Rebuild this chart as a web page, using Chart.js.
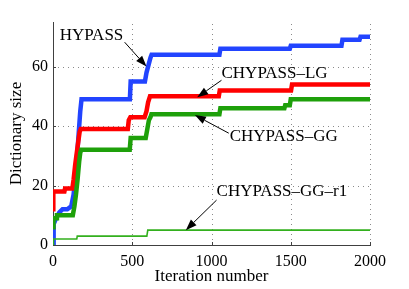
<!DOCTYPE html>
<html>
<head>
<meta charset="utf-8">
<script src="https://cdn.jsdelivr.net/npm/chart.js@4.4.0/dist/chart.umd.min.js"></script>
<style>
html, body { margin: 0; padding: 0; background: #fff; }
</style>
</head>
<body>
<canvas id="dictChart" width="409" height="289"></canvas>
<script>
// axis ticks
const xTicks = [0, 500, 1000, 1500, 2000];
const yTicks = [0, 20, 40, 60];

// HYPASS
const hypassIter = [0, 4, 20, 40, 60, 90, 115, 130, 145, 160, 172, 180, 485, 490, 580, 590, 605, 615, 622, 1050, 1056, 1494, 1500, 1820, 1826, 1934, 1940, 2000];
const hypassSize = [0, 7, 9, 11, 12, 12, 13, 17, 25, 36, 45, 49, 49, 55, 55, 58, 61, 63, 64, 64, 66, 66, 67, 67, 69, 69, 70, 70];

// CHYPASS-LG
const lgIter = [0, 2, 72, 76, 122, 130, 140, 150, 160, 168, 175, 472, 478, 488, 578, 590, 600, 612, 1046, 1052, 1502, 1508, 2000];
const lgSize = [12, 18, 18, 19, 19, 22, 27, 31, 35, 38, 39, 39, 42, 43, 43, 45, 48, 50, 50, 52, 52, 54, 54];

// CHYPASS-GG
const ggIter = [0, 3, 20, 25, 125, 135, 145, 155, 165, 172, 178, 484, 490, 585, 595, 605, 615, 621, 1050, 1056, 1460, 1465, 1494, 1500, 2000];
const ggSize = [6, 9, 9, 10, 10, 13, 17, 22, 28, 31, 32, 32, 36, 36, 39, 42, 43, 44, 44, 46, 46, 47, 47, 49, 49];

// CHYPASS-GG-r1
const r1Iter = [0, 3, 150, 153, 592, 598, 2000];
const r1Size = [0, 2, 2, 3, 3, 5, 5];

// annotations (data units): text left/baseline, arrow tail, arrow tip
const labelNames = ['HYPASS', 'CHYPASS\u2013LG', 'CHYPASS\u2013GG', 'CHYPASS\u2013GG\u2013r1'];
const labelAt = [[42, 68.9], [1063, 56.2], [1115, 35], [1032, 16.6]];
const arrowFrom = [[452, 68.2], [1063, 55.4], [1109, 37.6], [1032, 15.1]];
const arrowTo = [[590, 60], [910, 49.7], [895, 43.7], [838, 5]];

const serif = 'Liberation Serif';
const axisColor = '#404040';

function toPoints(xs, ys) {
    return xs.map((x, i) => ({ x: x, y: ys[i] }));
}

const matlabAxes = {
    id: 'matlabAxes',
    beforeDatasetsDraw(chart) {
        const ctx = chart.ctx;
        const area = chart.chartArea;
        const xs = chart.scales.x;
        const ys = chart.scales.y;
        ctx.save();
        // dotted grid
        ctx.strokeStyle = '#8a8a8a';
        ctx.lineWidth = 1;
        ctx.setLineDash([1, 4]);
        xTicks.slice(1).forEach(v => {
            const px = Math.round(xs.getPixelForValue(v)) + 0.5;
            ctx.beginPath();
            ctx.moveTo(px, area.bottom);
            ctx.lineTo(px, area.top);
            ctx.stroke();
        });
        yTicks.slice(1).forEach(v => {
            const py = Math.round(ys.getPixelForValue(v)) + 0.5;
            ctx.beginPath();
            ctx.moveTo(area.left, py);
            ctx.lineTo(area.right, py);
            ctx.stroke();
        });
        // inward tick marks
        ctx.setLineDash([]);
        ctx.strokeStyle = axisColor;
        xTicks.forEach(v => {
            const px = Math.round(xs.getPixelForValue(v)) + 0.5;
            ctx.beginPath();
            ctx.moveTo(px, area.bottom);
            ctx.lineTo(px, area.bottom - 3);
            ctx.stroke();
        });
        yTicks.forEach(v => {
            const py = Math.round(ys.getPixelForValue(v)) + 0.5;
            ctx.beginPath();
            ctx.moveTo(area.left, py);
            ctx.lineTo(area.left + 3, py);
            ctx.stroke();
        });
        ctx.restore();
    },
    afterDatasetsDraw(chart) {
        const ctx = chart.ctx;
        const xs = chart.scales.x;
        const ys = chart.scales.y;
        ctx.save();
        ctx.fillStyle = '#000';
        ctx.strokeStyle = '#000';
        ctx.lineWidth = 1;
        ctx.font = '17px "' + serif + '"';
        ctx.textBaseline = 'alphabetic';
        ctx.textAlign = 'left';
        labelNames.forEach((name, i) => {
            ctx.fillText(name, xs.getPixelForValue(labelAt[i][0]), ys.getPixelForValue(labelAt[i][1]));
            const x1 = xs.getPixelForValue(arrowFrom[i][0]);
            const y1 = ys.getPixelForValue(arrowFrom[i][1]);
            const x2 = xs.getPixelForValue(arrowTo[i][0]);
            const y2 = ys.getPixelForValue(arrowTo[i][1]);
            const ang = Math.atan2(y2 - y1, x2 - x1);
            const len = 11, half = 4;
            const bx = x2 - len * Math.cos(ang);
            const by = y2 - len * Math.sin(ang);
            ctx.beginPath();
            ctx.moveTo(x1, y1);
            ctx.lineTo(bx, by);
            ctx.stroke();
            ctx.beginPath();
            ctx.moveTo(x2, y2);
            ctx.lineTo(bx + half * Math.sin(ang), by - half * Math.cos(ang));
            ctx.lineTo(bx - half * Math.sin(ang), by + half * Math.cos(ang));
            ctx.closePath();
            ctx.fill();
        });
        ctx.restore();
    }
};

const ctx = document.getElementById('dictChart').getContext('2d');
const dictChart = new Chart(ctx, {
    type: 'line',
    data: {
        datasets: [
            { label: 'CHYPASS-GG-r1', data: toPoints(r1Iter, r1Size), borderColor: '#33b01e', borderWidth: 1.6 },
            { label: 'CHYPASS-GG', data: toPoints(ggIter, ggSize), borderColor: '#1ea00a', borderWidth: 4.5 },
            { label: 'CHYPASS-LG', data: toPoints(lgIter, lgSize), borderColor: '#ff0000', borderWidth: 4.5 },
            { label: 'HYPASS', data: toPoints(hypassIter, hypassSize), borderColor: '#2244ff', borderWidth: 4.5 }
        ]
    },
    options: {
        responsive: false,
        animation: false,
        devicePixelRatio: 1,
        layout: { padding: { top: 22, right: 39, left: 0, bottom: 0 } },
        elements: {
            point: { radius: 0 },
            line: { tension: 0, fill: false, borderCapStyle: 'butt', borderJoinStyle: 'miter' }
        },
        plugins: {
            legend: { display: false },
            tooltip: { enabled: false }
        },
        scales: {
            x: {
                type: 'linear',
                min: 0,
                max: 2000,
                afterBuildTicks: s => { s.ticks = xTicks.map(v => ({ value: v })); },
                afterFit: s => { s.height = 44; },
                grid: { display: false, drawTicks: false },
                border: { display: true, color: axisColor, width: 1 },
                ticks: { font: { family: serif, size: 16 }, color: '#000', padding: 7, maxRotation: 0, callback: v => String(v) },
                title: { display: true, text: 'Iteration number', font: { family: serif, size: 17 }, color: '#000', padding: { top: 0, bottom: 2 } }
            },
            y: {
                type: 'linear',
                min: 0,
                max: 75,
                afterBuildTicks: s => { s.ticks = yTicks.map(v => ({ value: v })); },
                afterFit: s => { s.width = 53; },
                grid: { display: false, drawTicks: false },
                border: { display: true, color: axisColor, width: 1 },
                ticks: { font: { family: serif, size: 16 }, color: '#000', padding: 5, callback: v => String(v) },
                title: { display: true, text: 'Dictionary size', font: { family: serif, size: 17 }, color: '#000', padding: { top: 6, bottom: 0 } }
            }
        }
    },
    plugins: [matlabAxes]
});
</script>
</body>
</html>
